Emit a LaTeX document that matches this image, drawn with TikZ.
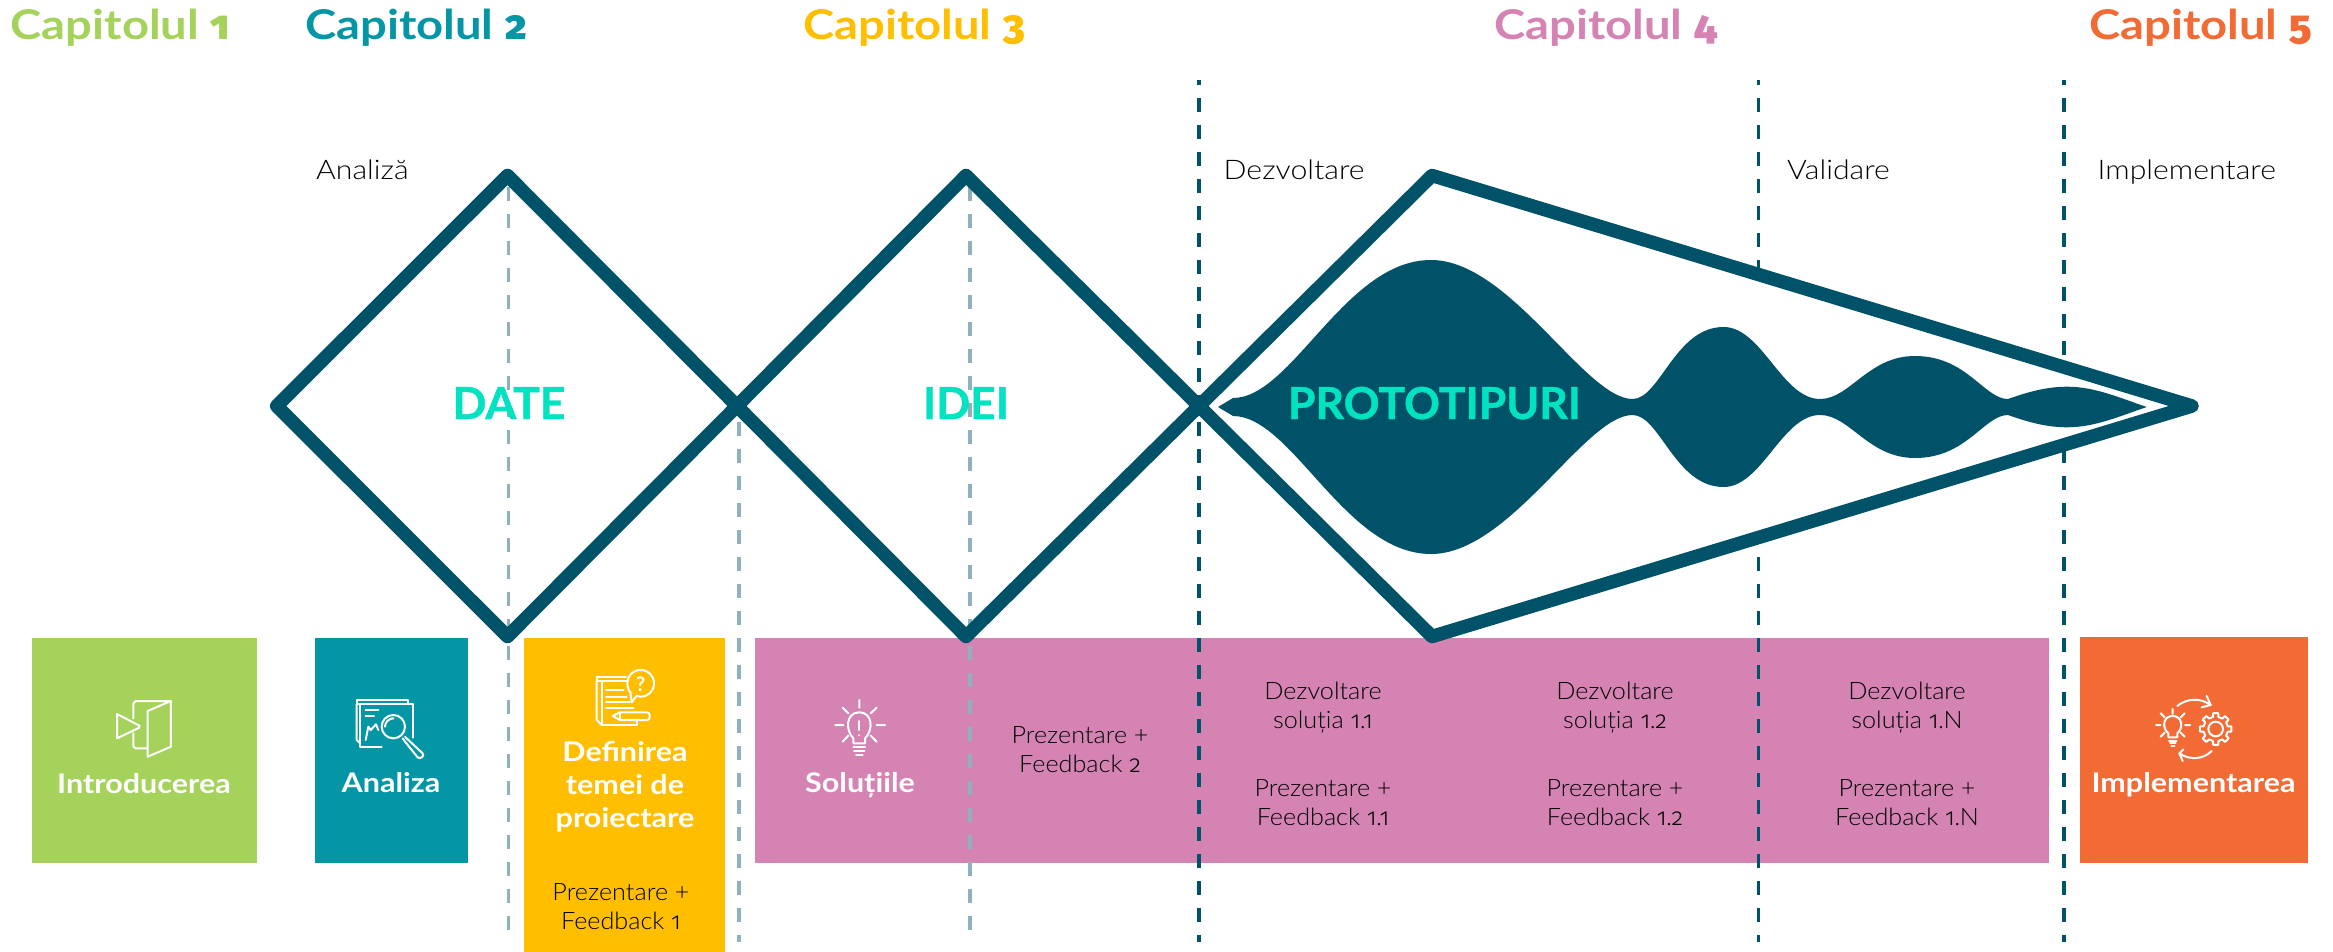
\documentclass[tikz,border=0pt]{standalone}
\usepackage{fontspec}
\setmainfont{Lato}
\newfontfamily\lightbody[FakeStretch=1.05]{Lato Light}
\newfontfamily\lightphase[FakeStretch=1.12]{Lato Light}
\newfontfamily\onum[Numbers=OldStyle]{Fira Sans Light}
\newfontfamily\onumb[Numbers=OldStyle]{Fira Sans SemiBold}
\usetikzlibrary{arrows.meta}
\definecolor{cgreen}{HTML}{A5D25A}
\definecolor{cteal}{HTML}{0596A6}
\definecolor{cyellow}{HTML}{FFBF00}
\definecolor{cpink}{HTML}{D483B3}
\definecolor{corange}{HTML}{F26B34}
\definecolor{cdark}{HTML}{005268}
\definecolor{cmint}{HTML}{00E3C0}
\definecolor{clight}{HTML}{8DB1BE}
\newcommand{\dg}[1]{{\onum #1}}
\newcommand{\dgb}[1]{{\onumb #1}}
\tikzset{
  chapter/.style={anchor=base west,inner sep=0pt,font=\fontsize{41}{44}\selectfont\bfseries\addfontfeature{FakeStretch=1.15}},
  phase/.style={anchor=base west,inner sep=0pt,font=\fontsize{27}{30}\selectfont\lightphase,text=black},
  body/.style={anchor=base,inner sep=0pt,align=center,font=\fontsize{24}{29}\selectfont\lightbody,text=black},
  boxtitle/.style={anchor=base,inner sep=0pt,align=center,text=white,font=\fontsize{27}{33}\selectfont\bfseries\addfontfeature{FakeStretch=1.13}},
  big/.style={anchor=base,inner sep=0pt,text=cmint,font=\fontsize{44}{48}\selectfont\bfseries\addfontfeature{FakeBold=1,FakeStretch=1.01}},
  darkdash/.style={cdark,line width=3.2pt,dash pattern=on 14pt off 13pt,dash phase=9pt},
  lightdash/.style={clight,line width=3.2pt,dash pattern=on 14pt off 13pt},
  outline/.style={draw=cdark,line width=13.5pt,line join=round},
  icon/.style={draw=white,line width=2pt,line cap=round,line join=round},
}
\begin{document}
\begin{tikzpicture}[x=1pt,y=-1pt]
\useasboundingbox (0,0) rectangle (2333,952);
% boxes
\fill[cgreen] (31.5,638) rectangle (257,863);
\fill[cteal] (315,638) rectangle (468,863);
\fill[cyellow] (524,638) rectangle (725,952);
\fill[cpink] (755,638) rectangle (2049,863);
\fill[corange] (2080,637) rectangle (2307.5,863);
% dashed lines
\coordinate (d1a) at (508.5,187); \coordinate (d1b) at (508.5,942);
\coordinate (d2a) at (739,422); \coordinate (d2b) at (739,942);
\coordinate (d3a) at (970,187); \coordinate (d3b) at (970,942);
\coordinate (d4a) at (1199,80); \coordinate (d4b) at (1199,942);
\coordinate (d5a) at (1758.5,80); \coordinate (d5b) at (1758.5,942);
\coordinate (d6a) at (2064,80); \coordinate (d6b) at (2064,942);
\draw[lightdash] (d1a) -- (d1b);
\draw[lightdash] (d2a) -- (d2b);
\draw[lightdash] (d3a) -- (d3b);
\draw[darkdash] (d4a) -- (d4b);
\draw[darkdash] (d5a) -- (d5b);
\draw[darkdash] (d6a) -- (d6b);
% diamonds
\draw[outline] (276.7,406) -- (507.5,175.5) -- (737,406) -- (507.5,636.5) -- cycle;
\draw[outline] (737,406) -- (966,175.5) -- (1199,406) -- (966,636.5) -- cycle;
\draw[outline,fill=white] (1199,406) -- (1432,175.5) -- (2192,406) -- (1432,636.5) -- cycle;
% blob
\fill[cdark] (1218,407) -- (1233,398)
  .. controls (1292,398) and (1345,260) .. (1431,260)
  .. controls (1510,260) and (1585,399) .. (1632.5,399)
  .. controls (1660,399) and (1675,327) .. (1723.6,327)
  .. controls (1762,327) and (1782,399) .. (1820,399)
  .. controls (1850,399) and (1868,356) .. (1915,356)
  .. controls (1967,356) and (1984,399) .. (2008,399)
  .. controls (2025,393) and (2045,386.7) .. (2067,386.7)
  .. controls (2095,386.7) and (2120,398) .. (2146.7,407)
  .. controls (2120,416) and (2095,427.3) .. (2067,427.3)
  .. controls (2045,427.3) and (2025,421) .. (2008,415)
  .. controls (1984,415) and (1967,458) .. (1915,458)
  .. controls (1868,458) and (1850,415) .. (1820,415)
  .. controls (1782,415) and (1762,487) .. (1723.6,487)
  .. controls (1675,487) and (1660,415) .. (1632.5,415)
  .. controls (1585,415) and (1510,554) .. (1431,554)
  .. controls (1345,554) and (1292,416) .. (1233,416) -- cycle;
% big words
\node[big] (date) at (509,419) {DATE};
\node[big] (idei) at (966,419) {IDEI};
\node[big] (proto) at (1434.5,419) {PROTOTIPURI};
% chapters
\node[chapter,text=cgreen] (c1) at (10.5,40) {Capitolul \dgb{1}};
\node[chapter,text=cteal] (c2) at (305,40) {Capitolul \dgb{2}};
\node[chapter,text=cyellow] (c3) at (803,40) {Capitolul \dgb{3}};
\node[chapter,text=cpink] (c4) at (1494,40) {Capitolul \dgb{4}};
\node[chapter,text=corange] (c5) at (2089,40) {Capitolul \dgb{5}};
% phases
\node[phase] (p1) at (316,180) {Analiză};
\node[phase] (p2) at (1223.5,180) {Dezvoltare};
\node[phase] (p3) at (1787,180) {Validare};
\node[phase] (p4) at (2097.5,180) {Implementare};
% box titles
\node[boxtitle] (t1) at (144,793) {Introducerea};
\node[boxtitle] (t2) at (391,792) {Analiza};
\node[boxtitle] (t3) at (625,827) {Definirea\\temei de\\proiectare};
\node[boxtitle] (t4) at (860,792) {Soluțiile};
\node[boxtitle] (t5) at (2193.5,792) {Implementarea};
% body
\node[body] (b1) at (621,929) {Prezentare +\\Feedback \dg{1}};
\node[body] (b2) at (1080,772) {Prezentare +\\Feedback \dg{2}};
\node[body] (b3) at (1323,728) {Dezvoltare\\soluția \dg{1.1}};
\node[body] (b4) at (1323,825) {Prezentare +\\Feedback \dg{1.1}};
\node[body] (b5) at (1615,728) {Dezvoltare\\soluția \dg{1.2}};
\node[body] (b6) at (1615,825) {Prezentare +\\Feedback \dg{1.2}};
\node[body] (b7) at (1907,728) {Dezvoltare\\soluția \dg{1.}N};
\node[body] (b8) at (1907,825) {Prezentare +\\Feedback \dg{1.}N};
% icon: door
\begin{scope}[shift={(105,695)},x=0.3333pt,y=-0.3333pt]
\draw[icon] (36,57) -- (103,92) -- (103,98) -- (36,130) -- cycle;
\draw[icon] (85,70) -- (85,25) -- (92,18) -- (198,18) -- (198,155) -- (128,185) -- (128,48) -- (198,18);
\draw[icon] (85,115) -- (85,155) -- (92,160) -- (128,160);
\end{scope}
% icon: report with magnifier
\begin{scope}[shift={(350,695)},x=0.3333pt,y=-0.3333pt]
\draw[icon] (30,28) -- (20,28) -- (20,15) -- (175,15) -- (175,28);
\draw[icon] (20,28) -- (20,135) -- (30,145);
\draw[icon] (95,155) -- (30,155) -- (30,28) -- (190,28) -- (190,128);
\draw[icon] (47,45) -- (85,45) (47,62) -- (72,62);
\draw[icon] (47,135) -- (55,95) -- (62,105) -- (78,88) -- (85,105);
\draw[icon] (130,95) circle (35);
\draw[icon] (105,95) .. controls (105,82) and (117,70) .. (130,70);
\draw[icon] (165,125) -- (172,132) -- (218,175) .. controls (225,182) and (210,195) .. (203,187) -- (165,140) -- (158,130);
\end{scope}
% icon: document with question bubble
\begin{scope}[shift={(590,665)},x=0.3333pt,y=-0.3333pt]
\draw[icon] (35,48) -- (20,48) -- (20,35) -- (108,35);
\draw[icon] (20,48) -- (20,165) -- (35,180);
\draw[icon] (112,48) -- (35,48) -- (35,180) -- (140,180) -- (140,165);
\draw[icon] (48,75) -- (100,75) (48,95) -- (110,95) (48,112) -- (120,112) (48,128) -- (130,128);
\draw[icon,fill=cyellow] (138.3,92.6) .. controls (115,88) and (112,65) .. (112,55)
  .. controls (112,30) and (130,15) .. (152,15)
  .. controls (175,15) and (192,32) .. (192,55)
  .. controls (192,78) and (175,95) .. (152,95)
  .. controls (147,95) and (143,94) .. (138.3,92.6);
\draw[icon,fill=cyellow] (121,82) -- (125,112) -- (140,92);
\fill[cyellow] (125,80) -- (133,96) -- (140,85) -- cycle;
\node[anchor=base,inner sep=0pt,text=white,font=\fontsize{20}{20}\selectfont\bfseries] (q) at (152,80) {?};
\draw[icon] (68,153) -- (90,142) -- (172,142) .. controls (182,142) and (182,165) .. (172,165) -- (90,165) -- cycle;
\draw[icon] (90,142) -- (90,165);
\end{scope}
% icon: bulb
\begin{scope}[shift={(830,695)},x=0.3333pt,y=-0.3333pt]
\draw[icon] (88,15) -- (88,38) (140,90) -- (165,90) (15,90) -- (40,90) (38,38) -- (55,55) (140,38) -- (122,55) (38,140) -- (55,122) (140,140) -- (122,122);
\draw[icon] (70,145) -- (70,130) .. controls (45,105) and (48,52) .. (88,52) .. controls (128,52) and (131,105) .. (105,130) -- (105,145) -- cycle;
\draw[icon] (88,78) -- (88,105) (88,120) -- (88,121);
\draw[icon] (70,155) -- (105,155) (72,167) -- (103,167) (78,180) -- (98,180);
\end{scope}
% icon: bulb, gear and arrows
\begin{scope}[shift={(2150,690)},x=0.3333pt,y=-0.3333pt]
\draw[icon] (68,57) -- (68,72) (105,105) -- (120,105) (18,105) -- (32,105) (32,70) -- (44,82) (104,70) -- (92,82) (32,140) -- (44,128) (104,140) -- (92,128);
\draw[icon] (55,142) -- (55,130) .. controls (34,112) and (40,78) .. (68,78) .. controls (96,78) and (102,112) .. (82,130) -- (82,142) -- cycle;
\draw[icon] (57,152) -- (80,152) (60,160) -- (77,160) (64,168) -- (73,168);
\begin{scope}[shift={(197,117)}]
\foreach \a in {0,45,...,315}{
  \draw[icon] ({\a-13}:37) -- ({\a-9}:48) -- ({\a+9}:48) -- ({\a+13}:37) -- ({\a+32}:37);
}
\draw[icon] (0,0) circle (22);
\end{scope}
\draw[icon] (82,48) .. controls (110,25) and (150,22) .. (182,45);
\draw[icon] (170,18) -- (182,45) -- (155,52);
\draw[icon] (185,183) .. controls (160,208) and (120,212) .. (88,190);
\draw[icon] (100,178) -- (88,190) -- (98,213);
\end{scope}
\end{tikzpicture}
\end{document}
